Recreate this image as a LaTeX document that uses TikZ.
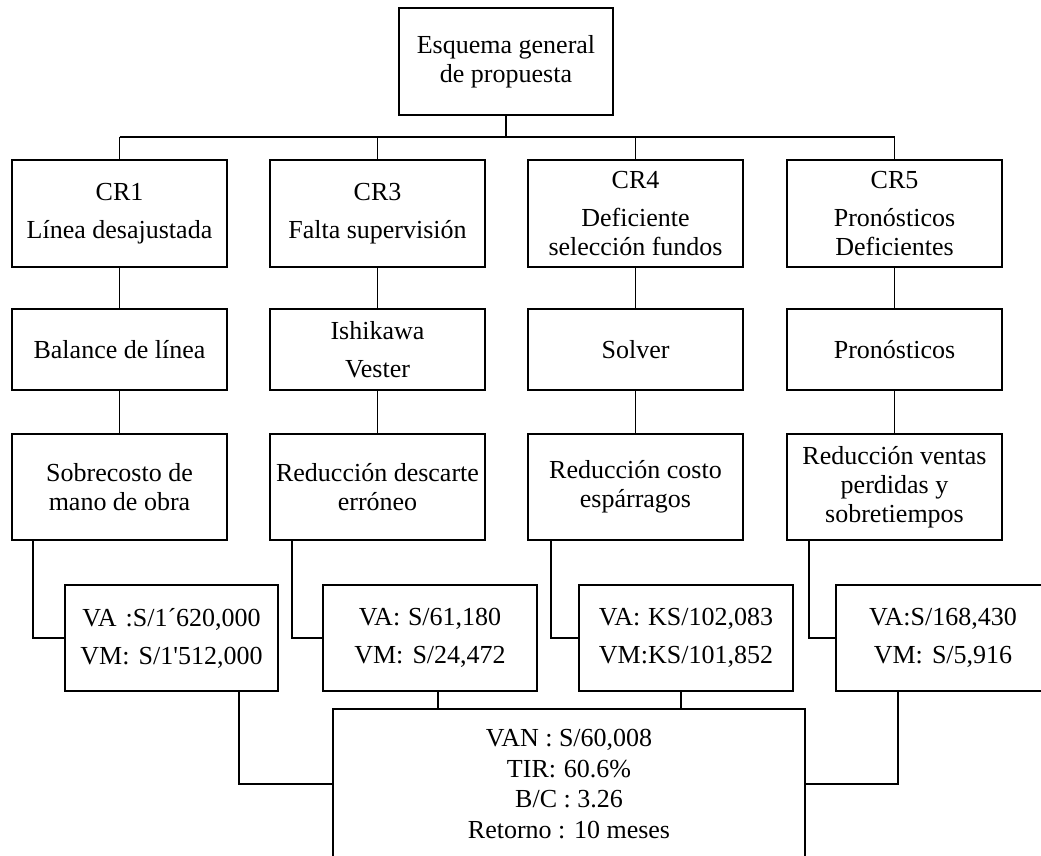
\documentclass[tikz,border=0pt]{standalone}
\usepackage{fontspec}
\setmainfont{Liberation Serif}
\newcommand\sq{\XeTeXglyph\XeTeXcharglyph"0027\relax}
\begin{document}
\begin{tikzpicture}[x=1pt,y=-1pt,
  box/.style={draw,line width=1.6pt,minimum width=215pt,inner sep=0pt,align=center,
    font=\fontsize{26}{29}\selectfont},
  hA/.style={minimum height=107pt},
  hB/.style={minimum height=81pt},
  hC/.style={minimum height=106pt},
  conn/.style={line width=1.3pt},
  bus/.style={line width=2pt}]
\useasboundingbox (0,0) rectangle (1041,855);
% root
\node[box,minimum width=214pt,hA] (root) at (506,61.5) {Esquema general\\de propuesta};
% row 1
\node[box,hA] (c1) at (119.5,213.5) {CR1\\[9pt]Línea desajustada};
\node[box,hA] (c3) at (377.5,213.5) {CR3\\[9pt]Falta supervisión};
\node[box,hA] (c4) at (635.5,213.5) {CR4\\[9pt]Deficiente\\selección fundos};
\node[box,hA] (c5) at (894.5,213.5) {CR5\\[9pt]Pronósticos\\Deficientes};
% row 2
\node[box,hB] (t1) at (119.5,349.5) {Balance de línea};
\node[box,hB] (t3) at (377.5,349.5) {Ishikawa\\[9pt]Vester};
\node[box,hB] (t4) at (635.5,349.5) {Solver};
\node[box,hB] (t5) at (894.5,349.5) {Pronósticos};
% row 3
\node[box,hC] (r1) at (119.5,487) {Sobrecosto de\\mano de obra};
\node[box,hC] (r3) at (377.5,487) {Reducción descarte\\erróneo};
\node[box,hC] (r4) at (635.5,487) {Reducción costo\\espárragos};
\node[box,hC] (r5) at (894.5,487) {Reducción ventas\\perdidas y\\sobretiempos};
% row 4
\node[box,minimum width=213pt,hC] (v1) at (171.5,638) {VA\hspace{0.35em}:S/1´620,000\\[9pt]VM:\hspace{0.35em}S/1\sq512,000};
\node[box,minimum width=214pt,hC] (v3) at (430,638) {VA:\hspace{0.3em}S/61,180\\[9pt]VM:\hspace{0.35em}S/24,472};
\node[box,minimum width=214pt,hC] (v4) at (686,638) {VA:\hspace{0.3em}KS/102,083\\[9pt]VM:KS/101,852};
\node[box,minimum width=214pt,hC] (v5) at (943,638) {VA:S/168,430\\[9pt]VM:\hspace{0.35em}S/5,916};
% bottom
\node[box,minimum width=472pt,minimum height=150pt,font=\fontsize{26}{30.5}\selectfont] (bot) at (569,784)
  {VAN : S/60,008\\TIR:\hspace{0.3em}60.6\%\\B/C : 3.26\\Retorno : 10 meses};
% connectors
\draw[bus] (root.south) -- ++(0,21) coordinate (bj);
\draw[bus] (c1.north |- bj) -- (c5.north |- bj);
\foreach \n in {c1,c3,c4,c5} \draw[conn] (\n.north |- bj) -- (\n.north);
\draw[conn] (c1.south) -- (t1.north);
\draw[conn] (c3.south) -- (t3.north);
\draw[conn] (c4.south) -- (t4.north);
\draw[conn] (c5.south) -- (t5.north);
\draw[conn] (t1.south) -- (r1.north);
\draw[conn] (t3.south) -- (r3.north);
\draw[conn] (t4.south) -- (r4.north);
\draw[conn] (t5.south) -- (r5.north);
\draw[conn] ([xshift=-86.5pt]r1.south) |- (v1.west);
\draw[conn] ([xshift=-85.5pt]r3.south) |- (v3.west);
\draw[conn] ([xshift=-84.5pt]r4.south) |- (v4.west);
\draw[conn] ([xshift=-85.5pt]r5.south) |- (v5.west);
\draw[conn] ([xshift=67.5pt]v1.south) |- (bot.west);
\draw[conn] ([xshift=-45pt]v5.south) |- (bot.east);
\draw[conn] ([xshift=8pt]v3.south) -- ([xshift=8pt]v3.south |- bot.north);
\draw[conn] ([xshift=-5pt]v4.south) -- ([xshift=-5pt]v4.south |- bot.north);
\end{tikzpicture}
\end{document}
